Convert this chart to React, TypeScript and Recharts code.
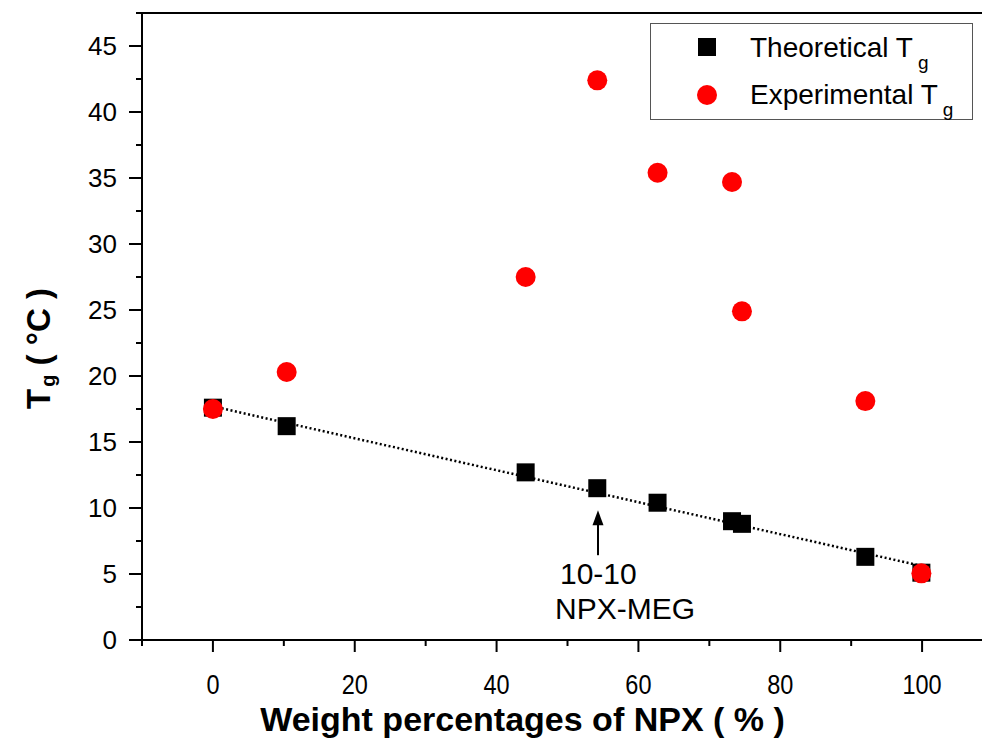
import React from 'react';
import { ScatterChart, Scatter, XAxis, YAxis, ReferenceLine, Legend } from 'recharts';

// ---- data ----
const npxPercent = [0, 10.4, 44.1, 54.2, 62.7, 73.2, 74.6, 92.0, 99.9];
const theoreticalTg = [17.6, 16.2, 12.7, 11.5, 10.4, 9.0, 8.8, 6.3, 5.1];
const experimentalTg = [17.5, 20.3, 27.5, 42.4, 35.4, 34.7, 24.9, 18.1, 5.05];
const fitX = [0, 100];
const fitY = [17.7, 5.6];
const annotationX = [54.3];
const annotationY = [11.5];
const annotationLines = ['10-10', 'NPX-MEG'];

const xTicks = [-10, 0, 10, 20, 30, 40, 50, 60, 70, 80, 90, 100, 110];
const xLabels = [0, 20, 40, 60, 80, 100];
const yTicks = [0, 2.5, 5, 7.5, 10, 12.5, 15, 17.5, 20, 22.5, 25, 27.5, 30, 32.5, 35, 37.5, 40, 42.5, 45, 47.5];
const yLabels = [0, 5, 10, 15, 20, 25, 30, 35, 40, 45];

const seriesNames = ['Theoretical T', 'Experimental T'];
const subscript = 'g';
const xTitle = 'Weight percentages of NPX ( % )';

const theoData = npxPercent.map((x, i) => ({ x, y: theoreticalTg[i] }));
const expData = npxPercent.map((x, i) => ({ x, y: experimentalTg[i] }));
const fitData = fitX.map((x, i) => ({ x, y: fitY[i] }));
const annData = annotationX.map((x, i) => ({ x, y: annotationY[i] }));

const FONT = '"Liberation Sans", Arial, sans-serif';

const XTick = (props: any) => {
  const { x, y, payload } = props;
  const v = payload.value;
  const major = xLabels.includes(v);
  return (
    <g>
      <line x1={x} x2={x} y1={y} y2={y + (major ? 12 : 6)} stroke="#000" strokeWidth={2} />
      {major && (
        <text
          transform={`translate(${x}, ${y + 54}) scale(0.84, 1)`}
          x={0}
          y={0}
          textAnchor="middle"
          fontSize={28}
          fontFamily={FONT}
          fill="#000"
        >
          {v}
        </text>
      )}
    </g>
  );
};

const YTick = (props: any) => {
  const { x, y, payload } = props;
  const v = payload.value;
  const major = yLabels.includes(v);
  return (
    <g>
      <line x1={x - (major ? 13 : 6)} x2={x} y1={y} y2={y} stroke="#000" strokeWidth={2} />
      {major && (
        <text x={x - 25} y={y + 9} textAnchor="end" fontSize={26} fontFamily={FONT} fill="#000">
          {v}
        </text>
      )}
    </g>
  );
};

const XTitle = (props: any) => {
  const vb = props.viewBox;
  return (
    <text
      x={vb.x + vb.width / 2 - 45}
      y={vb.y + 91}
      textAnchor="middle"
      fontSize={34}
      fontWeight="bold"
      fontFamily={FONT}
      fill="#000"
    >
      {xTitle}
    </text>
  );
};

const YTitle = (props: any) => {
  const vb = props.viewBox;
  const cx = 38;
  const cy = vb.y + vb.height / 2 + 22;
  return (
    <text
      x={cx}
      y={cy}
      transform={`rotate(-90, ${cx}, ${cy})`}
      textAnchor="middle"
      dominantBaseline="central"
      fontSize={33}
      fontWeight="bold"
      fontFamily={FONT}
      fill="#000"
    >
      T
      <tspan dx={2} dy={10} fontSize={20}>{subscript}</tspan>
      <tspan dy={-10}> ( °C )</tspan>
    </text>
  );
};

const Square = (props: any) => {
  const { cx, cy } = props;
  return <rect x={cx - 9} y={cy - 9} width={18} height={18} fill="#000" />;
};

const Dot = (props: any) => {
  const { cx, cy } = props;
  return <circle cx={cx} cy={cy} r={10} fill="#ff0000" />;
};

const Empty = () => <g />;

const Annotation = (props: any) => {
  const { cx, cy } = props;
  return (
    <g>
      <line x1={cx} x2={cx} y1={cy + 67} y2={cy + 34} stroke="#000" strokeWidth={2} />
      <polygon points={`${cx},${cy + 22} ${cx - 5.5},${cy + 37} ${cx + 5.5},${cy + 37}`} fill="#000" />
      <text x={cx - 38} y={cy + 96} fontSize={30} fontFamily={FONT} fill="#000">
        {annotationLines[0]}
      </text>
      <text x={cx - 43} y={cy + 131} fontSize={30} fontFamily={FONT} fill="#000">
        {annotationLines[1]}
      </text>
    </g>
  );
};

const LegendBox = () => (
  <svg width={324} height={98} style={{ display: 'block' }}>
    <rect x={0.5} y={0.5} width={322} height={96} fill="#fff" stroke="#555" strokeWidth={1} />
    <rect x={48} y={15} width={18} height={18} fill="#000" />
    <circle cx={57} cy={72} r={10} fill="#ff0000" />
    <text x={100} y={34} fontSize={28} fontFamily={FONT} fill="#000">
      {seriesNames[0]}
      <tspan dx={5} dy={12} fontSize={19}>{subscript}</tspan>
    </text>
    <text x={100} y={81} fontSize={28} fontFamily={FONT} fill="#000">
      {seriesNames[1]}
      <tspan dx={5} dy={12} fontSize={19}>{subscript}</tspan>
    </text>
  </svg>
);

export default function App() {
  return (
    <div style={{ position: 'absolute', left: 0, top: 0, width: 982, height: 742, overflow: 'hidden', background: '#fff' }}>
      <ScatterChart width={1000} height={742} margin={{ top: 13, right: 7, left: 0, bottom: 0 }}>
        <XAxis
          type="number"
          dataKey="x"
          domain={[-10, 110]}
          ticks={xTicks}
          interval={0}
          tickSize={0}
          tickMargin={0}
          tickLine={false}
          tick={<XTick />}
          axisLine={{ stroke: '#000', strokeWidth: 2 }}
          height={102}
          allowDataOverflow
          label={<XTitle />}
        />
        <YAxis
          type="number"
          dataKey="y"
          domain={[0, 47.5]}
          ticks={yTicks}
          interval={0}
          tickSize={0}
          tickMargin={0}
          tickLine={false}
          tick={<YTick />}
          axisLine={{ stroke: '#000', strokeWidth: 2 }}
          width={142}
          allowDataOverflow
          label={<YTitle />}
        />
        <ReferenceLine y={47.5} stroke="#000" strokeWidth={2} ifOverflow="visible" />
        <ReferenceLine x={110} stroke="#000" strokeWidth={2} ifOverflow="visible" />
        <Legend
          layout="vertical"
          align="center"
          verticalAlign="middle"
          content={<LegendBox />}
          wrapperStyle={{ position: 'absolute', left: 650, top: 23, width: 324, height: 98 }}
        />
        <Scatter
          name="fit"
          data={fitData}
          line={{ stroke: '#000', strokeWidth: 2.5, strokeDasharray: '2 2.5' }}
          shape={<Empty />}
          legendType="none"
          isAnimationActive={false}
        />
        <Scatter name="Theoretical Tg" data={theoData} shape={<Square />} isAnimationActive={false} />
        <Scatter name="Experimental Tg" data={expData} shape={<Dot />} isAnimationActive={false} />
        <Scatter name="annotation" data={annData} shape={<Annotation />} legendType="none" isAnimationActive={false} />
      </ScatterChart>
    </div>
  );
}
